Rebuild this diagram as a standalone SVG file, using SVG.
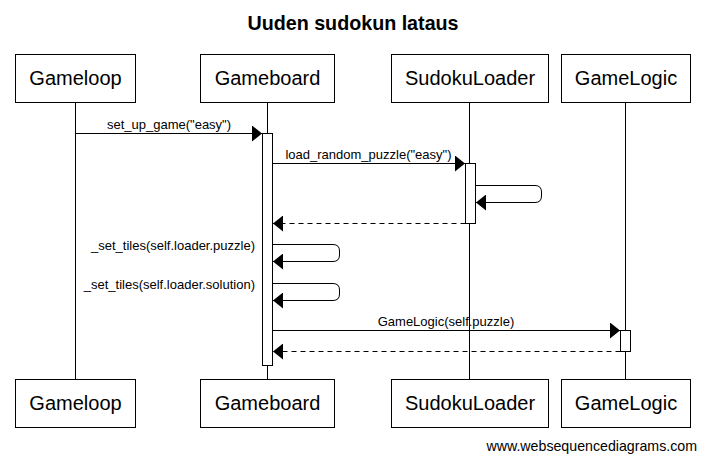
<svg xmlns="http://www.w3.org/2000/svg" width="705" height="461" viewBox="0 0 705 461">
<defs>
<style>
.box{fill:#fff;stroke:#000;stroke-width:1}
.life{stroke:#000;stroke-width:1}
.act{fill:#fff;stroke:#000;stroke-width:1}
.msg{fill:none;stroke:#000;stroke-width:1}
.ret{fill:none;stroke:#000;stroke-width:1;stroke-dasharray:5,4}
.pname{font-family:"Liberation Sans",Arial,sans-serif;font-size:20px;fill:#000;text-anchor:middle}
.lbl{font-family:"Liberation Sans",Arial,sans-serif;font-size:13px;fill:#000}
</style>
<marker id="ah" viewBox="0 0 10 16" refX="10" refY="8" markerWidth="10" markerHeight="16" markerUnits="userSpaceOnUse" orient="auto">
<path d="M0,0 L10,8 L0,16 z" fill="#000"/>
</marker>
</defs>
<rect width="705" height="461" fill="#fff"/>
<text x="353" y="30" font-family="'Liberation Sans',Arial,sans-serif" font-size="19.7" font-weight="bold" text-anchor="middle">Uuden sudokun lataus</text>

<g id="lifelines">
<line class="life" x1="75.5" y1="102" x2="75.5" y2="380"/>
<line class="life" x1="267.5" y1="102" x2="267.5" y2="380"/>
<line class="life" x1="469.5" y1="102" x2="469.5" y2="380"/>
<line class="life" x1="625.5" y1="102" x2="625.5" y2="380"/>
</g>

<g id="Gameloop">
<rect class="box" x="15.5" y="54.5" width="120" height="48"/>
<text class="pname" x="75.5" y="85">Gameloop</text>
<rect class="box" x="15.5" y="379.5" width="120" height="48"/>
<text class="pname" x="75.5" y="410">Gameloop</text>
</g>
<g id="Gameboard">
<rect class="box" x="200.5" y="54.5" width="134" height="48"/>
<text class="pname" x="267.5" y="85">Gameboard</text>
<rect class="box" x="200.5" y="379.5" width="134" height="48"/>
<text class="pname" x="267.5" y="410">Gameboard</text>
<rect class="act" x="262.5" y="133.5" width="10" height="232"/>
</g>
<g id="SudokuLoader">
<rect class="box" x="391.5" y="54.5" width="157" height="48"/>
<text class="pname" x="470" y="85">SudokuLoader</text>
<rect class="box" x="391.5" y="379.5" width="157" height="48"/>
<text class="pname" x="470" y="410">SudokuLoader</text>
<rect class="act" x="465.5" y="163.5" width="10" height="60"/>
</g>
<g id="GameLogic">
<rect class="box" x="561.5" y="54.5" width="129" height="48"/>
<text class="pname" x="626" y="85">GameLogic</text>
<rect class="box" x="561.5" y="379.5" width="129" height="48"/>
<text class="pname" x="626" y="410">GameLogic</text>
<rect class="act" x="620.5" y="330.5" width="10" height="21"/>
</g>

<g id="connectors">
<line class="msg" x1="75.5" y1="133.5" x2="262" y2="133.5" marker-end="url(#ah)"/>
<text class="lbl" x="169" y="129" text-anchor="middle">set_up_game("easy")</text>

<line class="msg" x1="272.5" y1="163.5" x2="465" y2="163.5" marker-end="url(#ah)"/>
<text class="lbl" x="368.5" y="159" text-anchor="middle">load_random_puzzle("easy")</text>

<path class="msg" d="M475.5,185.5 H535 Q541.5,185.5 541.5,192 V196 Q541.5,202.5 535,202.5 H476" marker-end="url(#ah)"/>

<line class="ret" x1="465.5" y1="223.5" x2="273" y2="223.5" marker-end="url(#ah)"/>

<path class="msg" d="M272.5,244.5 H333 Q339.5,244.5 339.5,251 V255 Q339.5,261.5 333,261.5 H273" marker-end="url(#ah)"/>
<text class="lbl" x="255" y="250" text-anchor="end">_set_tiles(self.loader.puzzle)</text>

<path class="msg" d="M272.5,283.5 H333 Q339.5,283.5 339.5,290 V294 Q339.5,300.5 333,300.5 H273" marker-end="url(#ah)"/>
<text class="lbl" x="255" y="289" text-anchor="end">_set_tiles(self.loader.solution)</text>

<line class="msg" x1="272.5" y1="330.5" x2="620" y2="330.5" marker-end="url(#ah)"/>
<text class="lbl" x="446" y="326" text-anchor="middle">GameLogic(self.puzzle)</text>

<line class="ret" x1="620.5" y1="351.5" x2="273" y2="351.5" marker-end="url(#ah)"/>
</g>

<text x="697" y="451" font-family="'Liberation Sans',Arial,sans-serif" font-size="14.2" text-anchor="end">www.websequencediagrams.com</text>
</svg>
